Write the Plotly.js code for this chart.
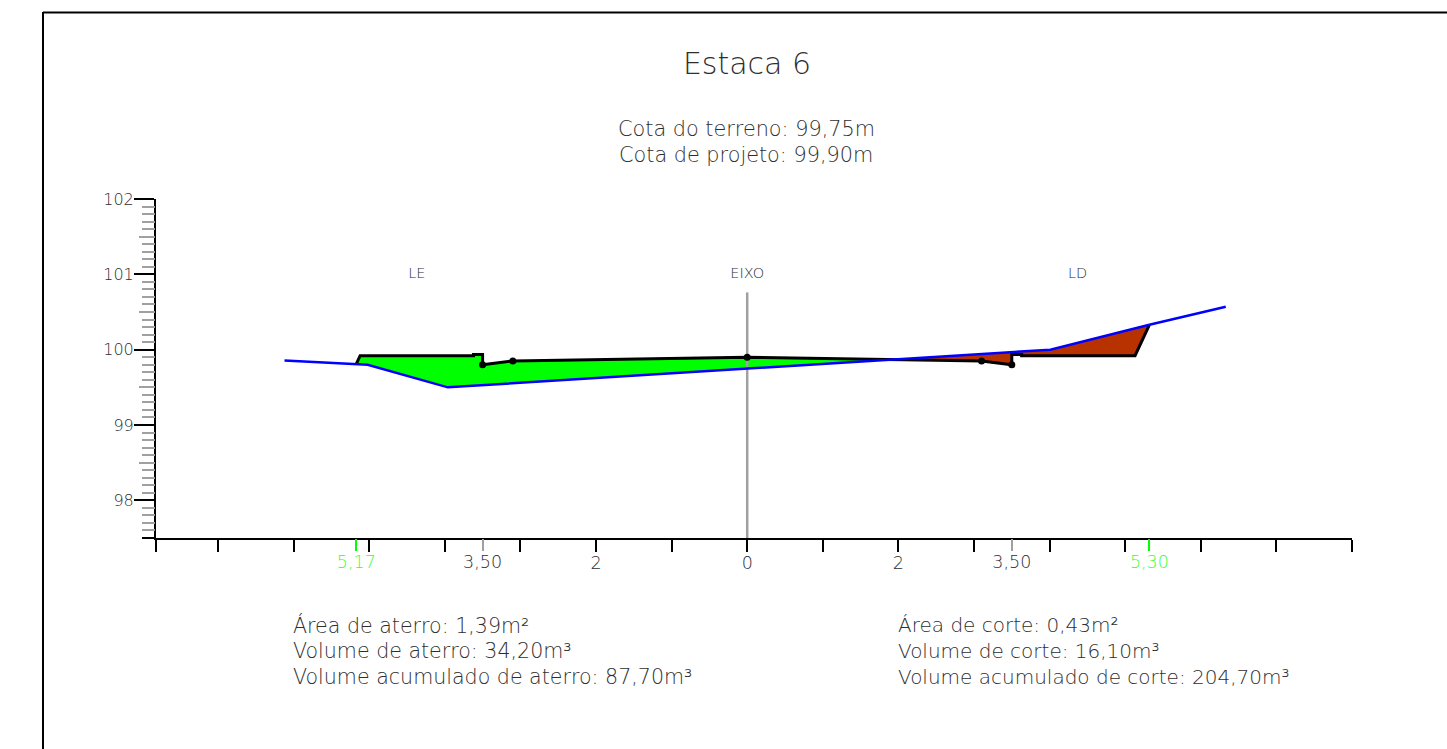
<!DOCTYPE html>
<html><head><meta charset="utf-8">
<script src="https://cdn.plot.ly/plotly-3.0.1.min.js"></script>
<style>html,body{margin:0;padding:0;background:#fff;overflow:hidden}#c{width:1447px;height:749px}</style>
</head><body><div id="c"></div>
<script>
var terrainX = [-6.12, -5.02, -3.96, 0, 4.01, 5.32, 6.33];
var terrainY = [99.857, 99.80, 99.50, 99.75, 100.0, 100.33, 100.57];
var projectX = [-5.17, -5.12, -3.62, -3.62, -3.50, -3.50, -3.10, 0, 3.10, 3.50, 3.50, 3.63, 3.63, 5.13, 5.32];
var projectY = [99.81, 99.92, 99.92, 99.935, 99.935, 99.80, 99.85, 99.90, 99.85, 99.80, 99.935, 99.935, 99.92, 99.92, 100.33];
var fillX = [-5.17, -5.12, -3.62, -3.62, -3.50, -3.50, -3.10, 0, 1.84, 0, -3.96, -5.02];
var fillY = [99.81, 99.92, 99.92, 99.935, 99.935, 99.80, 99.85, 99.90, 99.865, 99.75, 99.50, 99.80];
var cutX = [1.84, 3.10, 3.50, 3.50, 3.63, 3.63, 5.13, 5.32, 4.01];
var cutY = [99.865, 99.85, 99.80, 99.935, 99.935, 99.92, 99.92, 100.33, 100.0];
var nodeX = [-3.50, -3.10, 0, 3.10, 3.50];
var nodeY = [99.80, 99.85, 99.90, 99.85, 99.80];
var axisX = [0, 0];
var axisY = [97.5, 100.76];
var sideX = [-4.37, 0, 4.37];
var sideY = [101, 101, 101];
var sideLabels = ['LE', 'EIXO', 'LD'];

var xBlackTicks = [-7.82, -7, -6, -5, -4, -3, -2, -1, 0, 1, 2, 3, 4, 5, 6, 7, 8];
var xBlackLabels = ['', '', '', '', '', '', '2', '', '0', '', '2', '', '', '', '', '', ''];
var xGrayTicks = [-3.50, 3.50];
var xGrayLabels = ['3,50', '3,50'];
var xGreenTicks = [-5.17, 5.32];
var xGreenLabels = ['5,17', '5,30'];
var yMajorTicks = [98, 99, 100, 101, 102];
var yMajorLabels = ['98', '99', '100', '101', '102'];
var yMinorTicks = [97.6, 97.7, 97.8, 97.9, 98.1, 98.2, 98.3, 98.4, 98.6, 98.7, 98.8, 98.9, 99.1, 99.2, 99.3, 99.4, 99.6, 99.7, 99.8, 99.9, 100.1, 100.2, 100.3, 100.4, 100.6, 100.7, 100.8, 100.9, 101.1, 101.2, 101.3, 101.4, 101.6, 101.7, 101.8, 101.9];
var yMidTicks = [98.5, 99.5, 100.5, 101.5];
var yBaseTicks = [97.5];

var titleText = 'Estaca 6';
var headerLines = ['Cota do terreno: 99,75m', 'Cota de projeto: 99,90m'];
var leftLines = ['Área de aterro: 1,39m²', 'Volume de aterro: 34,20m³', 'Volume acumulado de aterro: 87,70m³'];
var rightLines = ['Área de corte: 0,43m²', 'Volume de corte: 16,10m³', 'Volume acumulado de corte: 204,70m³'];

var W = 1447, H = 749, L = 156, R = 95, T = 199, B = 211;
var xRange = [-7.82, 8.0], yRange = [97.5, 102];
var FONT = '"DejaVu Sans Light","DejaVu Sans ExtraLight","DejaVu Sans",sans-serif';
var INK = '#2e2e2e';
function px(x){return (x - L) / (W - L - R);}
function py(y){return (H - B - y) / (H - T - B);}
function note(t, x, y, anchor, size){
  return {text:t, xref:'paper', yref:'paper', x:px(x), y:py(y), xanchor:anchor, yanchor:'middle',
    showarrow:false, font:{family:FONT, size:size, color:INK}};
}
var annotations = [
  note(headerLines[0], 746, 129, 'center', 20.8),
  note(headerLines[1], 746, 155, 'center', 20.8)
];
[625, 651, 677].forEach(function(y, i){
  annotations.push(note(leftLines[i], 291, y, 'left', 20.6));
  annotations.push(note(rightLines[i], 896, y, 'left', 20));
});

function hidden(xa, ya){return {x:[0], y:[100], xaxis:xa, yaxis:ya, mode:'none', hoverinfo:'skip', showlegend:false};}
var traces = [
  {x:fillX, y:fillY, mode:'lines', fill:'toself', fillcolor:'#00ff00', line:{width:0}, showlegend:false},
  {x:cutX, y:cutY, mode:'lines', fill:'toself', fillcolor:'#b83200', line:{width:0}, showlegend:false},
  {x:axisX, y:axisY, mode:'lines', line:{color:'#a0a0a0', width:2.5}, showlegend:false},
  {x:projectX, y:projectY, mode:'lines', line:{color:'#000', width:3}, showlegend:false},
  {x:terrainX, y:terrainY, mode:'lines', line:{color:'#0000ff', width:2.5}, showlegend:false},
  {x:nodeX, y:nodeY, mode:'markers', marker:{color:'#000', size:7}, showlegend:false},
  {x:sideX, y:sideY, mode:'text', text:sideLabels, textposition:'middle center',
    textfont:{family:FONT, size:14.5, color:INK}, showlegend:false},
  hidden('x2','y'), hidden('x3','y'), hidden('x','y2'), hidden('x','y3'), hidden('x','y4')
];
function xAx(vals, labels, color, tickColor, over){
  var a = {range:xRange, tickmode:'array', tickvals:vals, ticktext:labels, ticks:'outside', ticklen:12, tickwidth:2,
    tickcolor:tickColor, showgrid:false, zeroline:false, fixedrange:true, anchor:'y', side:'bottom',
    tickfont:{family:FONT, size:17.5, color:color}, tickangle:0, ticklabelstandoff:-4, showline:!over, linecolor:'#000', linewidth:2};
  if(over) a.overlaying = 'x';
  return a;
}
function yAx(vals, labels, len, tickColor, over){
  var a = {range:yRange, tickmode:'array', tickvals:vals, ticktext:labels, ticks:'outside', ticklen:len, tickwidth:2,
    tickcolor:tickColor, showgrid:false, zeroline:false, fixedrange:true, anchor:'x', side:'left',
    tickfont:{family:FONT, size:16, color:INK}, ticklabelstandoff:-3, showline:!over, linecolor:'#000', linewidth:2};
  if(over) a.overlaying = 'y';
  return a;
}
var empty = function(v){return v.map(function(){return '';});};
var layout = {
  width:W, height:H, margin:{l:L, r:R, t:T, b:B, pad:0}, showlegend:false,
  paper_bgcolor:'#fff', plot_bgcolor:'rgba(0,0,0,0)',
  title:{text:titleText, x:747/W, y:1-63/H, xref:'container', yref:'container', xanchor:'center', yanchor:'middle',
    font:{family:FONT, size:30, color:INK}},
  xaxis:xAx(xBlackTicks, xBlackLabels, INK, '#000', false),
  xaxis2:xAx(xGrayTicks, xGrayLabels, INK, '#a0a0a0', true),
  xaxis3:xAx(xGreenTicks, xGreenLabels, '#33ff33', '#00ff00', true),
  yaxis:yAx(yMajorTicks, yMajorLabels, 20, '#000', false),
  yaxis2:yAx(yMinorTicks, empty(yMinorTicks), 13, '#a0a0a0', true),
  yaxis3:yAx(yMidTicks, empty(yMidTicks), 16, '#a0a0a0', true),
  yaxis4:yAx(yBaseTicks, empty(yBaseTicks), 13, '#000', true),
  annotations:annotations,
  shapes:[
    {type:'line', xref:'paper', yref:'paper', x0:px(43), x1:px(1447), y0:py(12.5), y1:py(12.5), line:{color:'#000', width:2}},
    {type:'line', xref:'paper', yref:'paper', x0:px(43), x1:px(43), y0:py(12), y1:py(749), line:{color:'#000', width:2}}
  ]
};
Plotly.newPlot('c', traces, layout, {staticPlot:true, displayModeBar:false});
</script></body></html>
